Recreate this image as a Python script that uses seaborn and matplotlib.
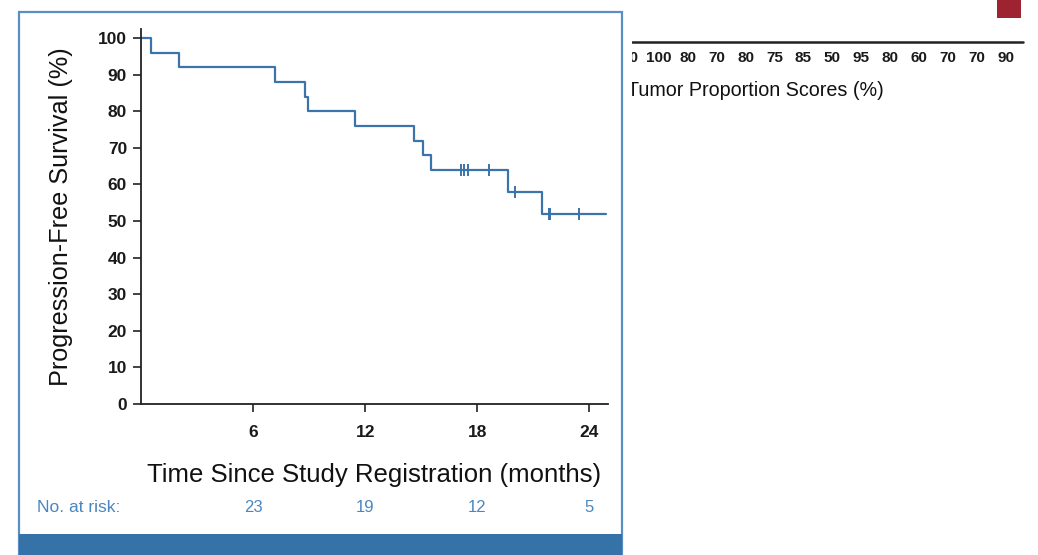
import numpy as np
import pandas as pd
import matplotlib
matplotlib.use("Agg")
import matplotlib.pyplot as plt
from matplotlib.patches import Rectangle
import seaborn as sns

# Kaplan-Meier step curve: time (months) and progression-free survival (%)
step_times = [0, 0.55, 2.05, 7.2, 8.8, 8.92, 11.45, 14.6, 15.1, 15.5, 19.65, 21.45, 24.9]
step_surv = [100, 96, 92, 88, 84, 80, 76, 72, 68, 64, 58, 52, 52]

# censored observations
censor_times = [17.12, 17.28, 17.48, 18.62, 20.03, 21.85, 21.92, 23.45]
censor_surv = [64, 64, 64, 64, 58, 52, 52, 52]

# number at risk
risk_times = [6, 12, 18, 24]
risk_counts = [23, 19, 12, 5]

x_ticks = [6, 12, 18, 24]
y_ticks = list(range(0, 101, 10))

# tumor proportion scores row
tps_scores = [90, 100, 80, 70, 80, 75, 85, 50, 95, 80, 60, 70, 70, 90]

W, H = 1038, 555
CURVE = "#3a74ab"
FRAME = "#5a8fc6"
BAR = "#3572a8"
RISK = "#4a86bf"

sns.set_theme(style="white")
plt.rcParams["font.family"] = ["Liberation Sans", "DejaVu Sans"]

fig = plt.figure(figsize=(W / 100, H / 100), dpi=100)


def fx(px):
    return px / W


def fy(py):
    return 1 - py / H


# panel frame and bottom band
fig.patches.append(Rectangle((fx(19), fy(555)), fx(622) - fx(19), fy(12) - fy(555),
                             transform=fig.transFigure, fill=False,
                             edgecolor=FRAME, linewidth=1.6, zorder=0))
fig.patches.append(Rectangle((fx(19), fy(555)), fx(622) - fx(19), fy(534) - fy(555),
                             transform=fig.transFigure, facecolor=BAR,
                             edgecolor="none", zorder=1))
# small red marker in the corner
fig.patches.append(Rectangle((fx(997), fy(18)), fx(1021) - fx(997), fy(0) - fy(18),
                             transform=fig.transFigure, facecolor="#9e2330",
                             edgecolor="none", zorder=1))

ax = fig.add_axes([fx(141), fy(404), fx(608) - fx(141), fy(29) - fy(404)])
ax.set_facecolor("none")

km = pd.DataFrame({"time": step_times, "pfs": step_surv})
sns.lineplot(data=km, x="time", y="pfs", drawstyle="steps-post",
             color=CURVE, linewidth=1.6, ax=ax, clip_on=False)
cens = pd.DataFrame({"time": censor_times, "pfs": censor_surv})
sns.scatterplot(data=cens, x="time", y="pfs", marker="|", s=70,
                linewidth=1.4, color=CURVE, ax=ax, clip_on=False)

ax.set_xlim(0, 25)
ax.set_ylim(0, 102.5)
ax.set_xticks(x_ticks)
ax.set_yticks(y_ticks)
sns.despine(ax=ax)
for side in ("left", "bottom"):
    ax.spines[side].set_color("#222222")
    ax.spines[side].set_linewidth(1.3)
ax.tick_params(axis="both", direction="out", length=6, width=1.2,
               color="#222222", labelcolor="#1a1a1a", bottom=True, left=True)
ax.tick_params(axis="x", pad=9)
ax.tick_params(axis="y", pad=4)
for lab in ax.get_xticklabels() + ax.get_yticklabels():
    lab.set_fontweight("bold")
    lab.set_fontsize(12.5)

ax.set_xlabel("Time Since Study Registration (months)", fontsize=18.5,
              color="#111111", labelpad=17)
ax.set_ylabel("Progression-Free Survival (%)", fontsize=18.2,
              color="#111111", labelpad=18)

# numbers at risk
fig.text(fx(37), fy(507), "No. at risk:", color=RISK, fontsize=12.5,
         ha="left", va="center")
risk_y = (404 - 507) / (404 - 29)
for t, n in zip(risk_times, risk_counts):
    ax.text(t, risk_y, str(n), transform=ax.get_xaxis_transform(),
            color=RISK, fontsize=12, ha="center", va="center")

# right-hand strip: score row under a rule, with its caption
ax2 = fig.add_axes([fx(632), fy(120), fx(1038) - fx(632), fy(0) - fy(120)])
ax2.set_axis_off()
ax2.set_xlim((632 - 630) / 28.9, (1038 - 630) / 28.9)
ax2.set_ylim(120, 0)
ax2.axhline(42, xmin=0, xmax=(1023 - 632) / (1038 - 632), color="#222222", linewidth=1.8)
for i, s in enumerate(tps_scores):
    ax2.text(i, 58, str(s), ha="center", va="center", fontsize=11,
             fontweight="bold", color="#1a1a1a", clip_on=True)
ax2.text((627 - 630) / 28.9, 90, "Tumor Proportion Scores (%)", ha="left",
         va="center", fontsize=14.2, color="#111111", clip_on=True)

fig.savefig("out.png", dpi=100)
